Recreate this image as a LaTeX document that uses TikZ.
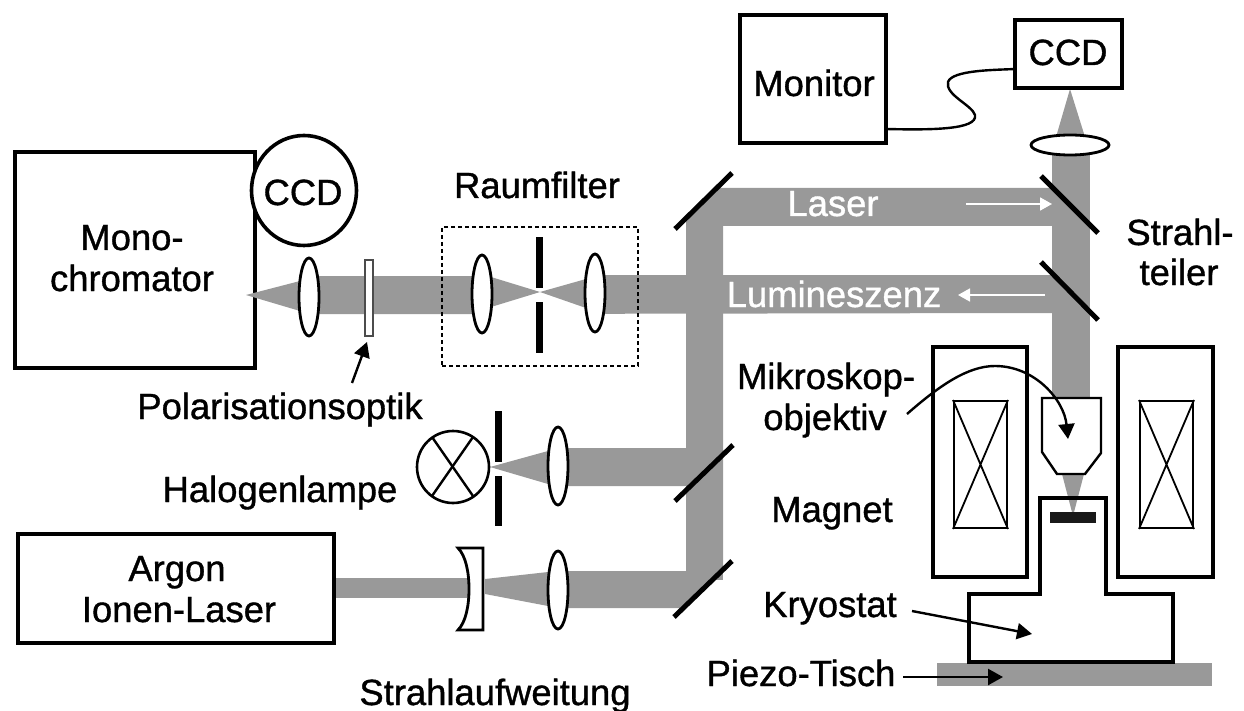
\documentclass[tikz,border=0pt]{standalone}
\usepackage{fontspec}
\setmainfont{Liberation Sans}
\newfontfamily\labfont[RawFeature={embolden=1}]{Liberation Sans}
\usetikzlibrary{shapes.geometric,arrows.meta}
\definecolor{beamgray}{HTML}{999999}
\tikzset{
  beam/.style={fill=beamgray,draw=none},
  box/.style={draw=black,line width=4pt,fill=white,inner sep=0pt,outer sep=0pt},
  lens/.style={ellipse,draw=black,line width=2.8pt,fill=white,inner sep=0pt,outer sep=0pt,minimum width=20pt,minimum height=78pt},
  hlens/.style={lens,minimum width=78pt,minimum height=20pt},
  mirror/.style={draw=black,line width=5pt},
  stopbar/.style={fill=black,draw=none},
  thin line/.style={draw=black,line width=2.4pt},
  label/.style={font=\labfont\fontsize{36.4}{40}\selectfont,inner sep=0pt,anchor=base,text=black},
  wlabel/.style={label,text=white},
  pointer/.style={draw=black,line width=2.4pt,-{Triangle[length=15pt,width=16pt]}},
  wpointer/.style={draw=white,line width=1.8pt,-{Triangle[length=12pt,width=13pt]}},
}
\begin{document}
\begin{tikzpicture}[x=1pt,y=-1pt]
\useasboundingbox (0,0) rectangle (1244,711);
% beams
\path[beam] (309,276) -- (482,276) -- (491,275) -- (1052,275) -- (1052,313) -- (482,314) -- (309,314) -- cycle;
\path[fill=white] (491,270) -- (586,270) -- (586,320) -- (491,320) -- cycle;
\path[beam] (491,277) -- (540,292) -- (586,279) -- (586,308) -- (540,292) -- (491,307) -- cycle;
\path[beam] (717,188) -- (1052,188) -- (1052,226) -- (723,226) -- (723,570) -- (683,608) -- (558,608) -- (558,571) -- (686,571) -- (686,486) -- (558,486) -- (558,448) -- (686,448) -- (686,218) -- cycle;
\path[beam] (686,440) rectangle (723,580);
\path[beam] (1052,145) rectangle (1090,398);
\path[beam] (1070,89) -- (1085,137) -- (1056,137) -- cycle;
\path[beam] (490,467) -- (548,451) -- (548,484) -- cycle;
\path[beam] (485,579) -- (548,572) -- (548,606) -- (485,594) -- cycle;
\path[beam] (334,578) rectangle (470,598);
\path[beam] (1062,474) -- (1084,474) -- (1073,516) -- cycle;
\path[beam] (937,663) rectangle (1212,686);
% boxes
\node[box,minimum width=240pt,minimum height=216pt] (mono) at (134.5,260) {};
\node[box,ellipse,line width=3.6pt,minimum width=105pt,minimum height=110pt] (ccdA) at (304,190.5) {};
\node[box,minimum width=146pt,minimum height=128pt] (monitor) at (813,79) {};
\node[box,minimum width=107pt,minimum height=68pt] (ccdB) at (1068.5,54) {};
\node[box,minimum width=316pt,minimum height=109pt] (argon) at (175.5,588.5) {};
\path[beam] (246,295) -- (300,281) -- (300,311) -- cycle;
% optics along the spectrometer path
\node[lens] (l1) at (309,297) {};
\node[lens] (l2) at (482,294) {};
\node[lens] (l3) at (595,293) {};
\node[lens] (l4) at (558,466) {};
\node[lens] (l5) at (558,590) {};
\node[hlens] (l6) at (1070,145) {};
\node[draw=black!70,line width=1.3pt,fill=white,inner sep=0pt,minimum width=8pt,minimum height=76pt] (pol) at (369,298) {};
\path[stopbar] (536,237) rectangle (543,288);
\path[stopbar] (536,302) rectangle (543,353);
\path[stopbar] (495,411) rectangle (502,462);
\path[stopbar] (495,476) rectangle (502,526);
\node[draw=black,line width=2.5pt,dash pattern=on 4pt off 3pt,minimum width=196pt,minimum height=139pt,inner sep=0pt] (raum) at (540,296.5) {};
% mirrors
\draw[mirror] (675,229) -- (732,173);
\draw[mirror] (675,501) -- (733,445);
\draw[mirror] (674,617) -- (732,561);
\draw[mirror] (1041,176) -- (1098,233);
\draw[mirror] (1041,262) -- (1098,320);
% lamp
\node[circle,draw=black,line width=2.6pt,fill=white,inner sep=0pt,minimum size=72pt] (lamp) at (453,467) {};
\draw[thin line] (432,437) -- (473,496);
\draw[thin line] (473,437) -- (432,496);
% beam expander
\path[draw=black,line width=2.8pt,fill=white,line join=miter] (458,548) -- (483,548) -- (483,630) -- (458,630) .. controls (466,622) and (469,605) .. (469,589) .. controls (469,573) and (466,556) .. (458,548) -- cycle;
% magnets
\node[box,minimum width=94pt,minimum height=230pt] (magL) at (980,462) {};
\node[box,minimum width=95pt,minimum height=230pt] (magR) at (1165.5,462) {};
\node[draw=black,line width=2pt,fill=white,inner sep=0pt,minimum width=53pt,minimum height=127pt] (coilL) at (980.5,464.5) {};
\node[draw=black,line width=2pt,fill=white,inner sep=0pt,minimum width=53pt,minimum height=127pt] (coilR) at (1166.5,464.5) {};
\draw[draw=black,line width=1.8pt] (coilL.north west) -- (coilL.south east) (coilL.north east) -- (coilL.south west);
\draw[draw=black,line width=1.8pt] (coilR.north west) -- (coilR.south east) (coilR.north east) -- (coilR.south west);
% objective
\path[draw=black,line width=2.4pt,fill=white] (1042,398) -- (1101,398) -- (1101,453) -- (1085,474) -- (1057,474) -- (1042,452) -- cycle;
% cryostat
\draw[black,line width=4pt,line join=miter] (969,594) -- (1040,594) -- (1040,498) -- (1106,498) -- (1106,594) -- (1173,594) -- (1173,662) -- (969,662) -- cycle;
\path[fill=black!90] (1050,512) rectangle (1096,523);
% cable
\draw[black,line width=2.4pt] (monitor.east |- 0,129) .. controls (930,130) and (978,130) .. (975,115) .. controls (972,105) and (945,95) .. (948,82) .. controls (952,70) and (995,70) .. (ccdB.west |- 0,69);
% labels
\node[label] (tCCDa) at (303,205) {CCD};
\node[label] (tMono) at (132,250) {Mono-};
\node[label] (tChrom) at (132,291) {chromator};
\node[label] (tRaum) at (537,198) {Raumfilter};
\node[label] (tPol) at (280,419) {Polarisationsoptik};
\node[label] (tHal) at (280,502) {Halogenlampe};
\node[label] (tAr) at (177,581) {Argon};
\node[label] (tIon) at (179,622) {Ionen-Laser};
\node[label] (tStr) at (495,705) {Strahlaufweitung};
\node[wlabel] (tLaser) at (833,216) {Laser};
\node[wlabel] (tLum) at (834,307) {Lumineszenz};
\node[label] (tMon) at (814,96) {Monitor};
\node[label] (tCCDb) at (1068,65) {CCD};
\node[label] (tSt1) at (1180,245) {Strahl-};
\node[label] (tSt2) at (1179,285) {teiler};
\node[label] (tMik) at (826,389) {Mikroskop-};
\node[label] (tObj) at (825,430) {objektiv};
\node[label] (tMag) at (832,522) {Magnet};
\node[label] (tKry) at (830,617) {Kryostat};
\node[label] (tPie) at (801,686) {Piezo-Tisch};
% pointers
\coordinate (polS) at (352,383);
\coordinate (polE) at (367,342);
\coordinate (mikS) at (907,414);
\coordinate (mikE) at (1068,439);
\coordinate (kryS) at (912,611);
\coordinate (kryE) at (1032,634);
\coordinate (pieS) at (903,677);
\coordinate (pieE) at (1003,677);
\coordinate (lasS) at (966,204);
\coordinate (lasE) at (1052,204);
\coordinate (lumS) at (1045,295);
\coordinate (lumE) at (958,295);
\draw[pointer] (polS) -- (polE);
\draw[pointer] (mikS) .. controls (940,385) and (968,366) .. (995,366) .. controls (1035,366) and (1064,400) .. (mikE);
\draw[pointer] (kryS) -- (kryE);
\draw[pointer] (pieS) -- (pieE);
\draw[wpointer] (lasS) -- (lasE);
\draw[wpointer] (lumS) -- (lumE);
\end{tikzpicture}
\end{document}
